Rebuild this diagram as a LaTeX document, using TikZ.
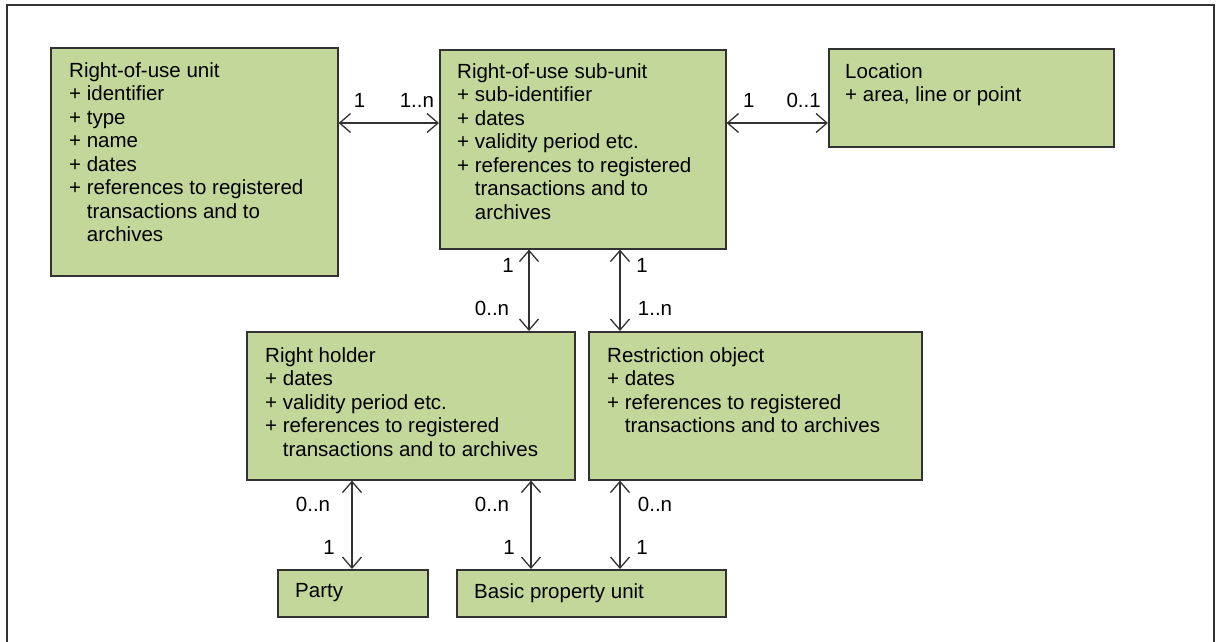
\documentclass[tikz,border=0pt]{standalone}
\usepackage{fontspec}
\setmainfont{Liberation Sans}
\usetikzlibrary{shapes}
\usetikzlibrary{arrows.meta}
\definecolor{boxgreen}{RGB}{196,215,155}
\definecolor{linegray}{RGB}{50,50,50}

\begin{document}
\begin{tikzpicture}[x=1pt,y=-1pt]
			\tikzstyle{entity}=[rectangle,draw=linegray,line width=1.6pt,fill=boxgreen,anchor=north west,inner sep=0pt]
			\tikzstyle{attrs}=[anchor=north west,inner sep=0pt,align=left,font=\fontsize{20.5}{23.5}\selectfont]
			\tikzstyle{assoc}=[draw=linegray,line width=1.3pt,{Straight Barb[length=11pt,width=19pt]}-{Straight Barb[length=11pt,width=19pt]}]
			\tikzstyle{card}=[inner sep=0pt,font=\fontsize{20.5}{23.5}\selectfont]
			\tikzstyle{frame}=[draw=linegray,line width=1.8pt]

			\useasboundingbox (0,0) rectangle (1216,641);
			\draw[frame] (7,645) -- (7,5) -- (1214,5) -- (1214,645);

			\node[entity,minimum width=287pt,minimum height=228pt] (unit) at (50,47) {};
			\node[entity,minimum width=286pt,minimum height=199pt] (subunit) at (439,49) {};
			\node[entity,minimum width=285pt,minimum height=98pt] (loc) at (828,48) {};
			\node[entity,minimum width=328pt,minimum height=148pt] (holder) at (246,331) {};
			\node[entity,minimum width=333pt,minimum height=148pt] (restr) at (588,331) {};
			\node[entity,minimum width=150pt,minimum height=47pt] (party) at (277,569) {};
			\node[entity,minimum width=269pt,minimum height=47pt] (basic) at (456,569) {};

			\node[attrs] (unittext) at ([shift={(19pt,-15pt)}]unit.north west)
				{Right-of-use unit\\+ identifier\\+ type\\+ name\\+ dates\\+ references to registered\\\hphantom{+ }transactions and to\\\hphantom{+ }archives};
			\node[attrs] (subunittext) at ([shift={(18pt,-14pt)}]subunit.north west)
				{Right-of-use sub-unit\\+ sub-identifier\\+ dates\\+ validity period etc.\\+ references to registered\\\hphantom{+ }transactions and to\\\hphantom{+ }archives};
			\node[attrs] (loctext) at ([shift={(17pt,-15pt)}]loc.north west)
				{Location\\+ area, line or point};
			\node[attrs] (holdertext) at ([shift={(19pt,-16pt)}]holder.north west)
				{Right holder\\+ dates\\+ validity period etc.\\+ references to registered\\\hphantom{+ }transactions and to archives};
			\node[attrs] (restrtext) at ([shift={(19pt,-16pt)}]restr.north west)
				{Restriction object\\+ dates\\+ references to registered\\\hphantom{+ }transactions and to archives};
			\node[attrs] (partytext) at ([shift={(18pt,-14pt)}]party.north west) {Party};
			\node[attrs] (basictext) at ([shift={(18pt,-14pt)}]basic.north west) {Basic property unit};

			\draw[assoc] ([yshift=-76pt]unit.north east) -- ([yshift=-74pt]subunit.north west)
				node[card,pos=0.21,yshift=23pt] (c1) {1}
				node[card,pos=0.78,yshift=23pt] (c2) {1..n};
			\draw[assoc] ([yshift=-74pt]subunit.north east) -- ([yshift=-75pt]loc.north west)
				node[card,pos=0.22,yshift=23pt] (c3) {1}
				node[card,pos=0.76,yshift=23pt] (c4) {0..1};
			\draw[assoc] ([xshift=90pt]subunit.south west) -- ([xshift=90pt]subunit.south west |- holder.north)
				node[card,pos=0.19,xshift=-21pt] (c5) {1}
				node[card,pos=0.72,xshift=-37pt] (c6) {0..n};
			\draw[assoc] ([xshift=181pt]subunit.south west) -- ([xshift=181pt]subunit.south west |- restr.north)
				node[card,pos=0.19,xshift=22pt] (c7) {1}
				node[card,pos=0.72,xshift=35pt] (c8) {1..n};
			\draw[assoc] ([xshift=75pt]party.north west |- holder.south) -- ([xshift=75pt]party.north west)
				node[card,pos=0.27,xshift=-39pt] (c9) {0..n}
				node[card,pos=0.76,xshift=-23pt] (c10) {1};
			\draw[assoc] ([xshift=75pt]basic.north west |- holder.south) -- ([xshift=75pt]basic.north west)
				node[card,pos=0.27,xshift=-39pt] (c11) {0..n}
				node[card,pos=0.76,xshift=-22pt] (c12) {1};
			\draw[assoc] ([xshift=164pt]basic.north west |- restr.south) -- ([xshift=164pt]basic.north west)
				node[card,pos=0.27,xshift=35pt] (c13) {0..n}
				node[card,pos=0.76,xshift=22pt] (c14) {1};
\end{tikzpicture}
\end{document}
